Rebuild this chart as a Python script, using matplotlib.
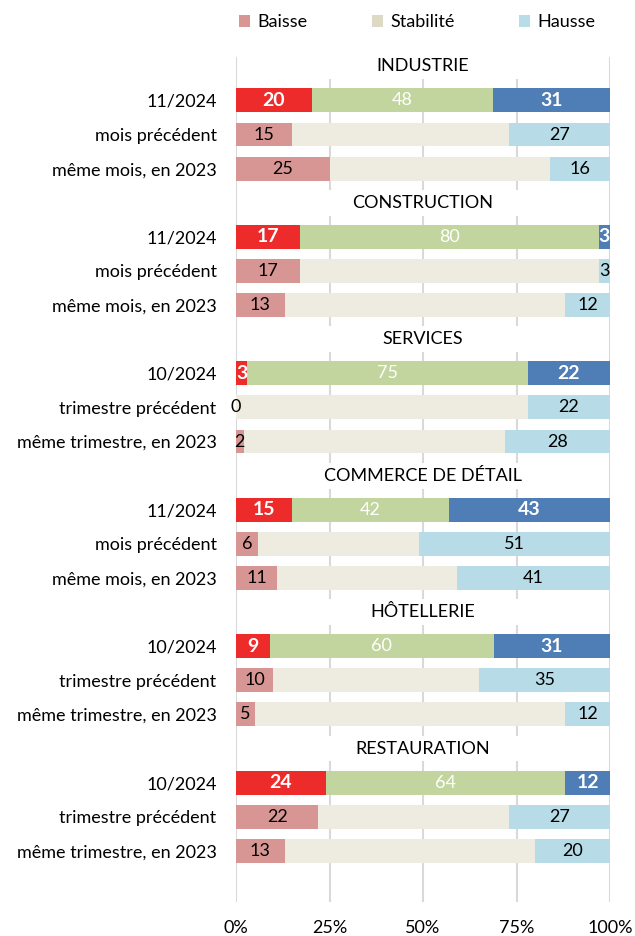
import numpy as np
import matplotlib.pyplot as plt
from matplotlib.patches import Patch

plt.rcParams['font.family'] = ['Lato', 'DejaVu Sans']

sectors = ["INDUSTRIE", "CONSTRUCTION", "SERVICES", "COMMERCE DE DÉTAIL", "HÔTELLERIE", "RESTAURATION"]
periods = [
    ["11/2024", "mois précédent", "même mois, en 2023"],
    ["11/2024", "mois précédent", "même mois, en 2023"],
    ["10/2024", "trimestre précédent", "même trimestre, en 2023"],
    ["11/2024", "mois précédent", "même mois, en 2023"],
    ["10/2024", "trimestre précédent", "même trimestre, en 2023"],
    ["10/2024", "trimestre précédent", "même trimestre, en 2023"],
]
baisse = [[20.2, 15, 25], [17, 17, 13], [3, 0, 2], [15, 6, 11], [9, 10, 5], [24, 22, 13]]
stabilite = [[48.4, 58, 59], [80, 80, 75], [75, 78, 70], [42, 43, 48], [60, 55, 83], [64, 51, 67]]
hausse = [[31.4, 27, 16], [3, 3, 12], [22, 22, 28], [43, 51, 41], [31, 35, 12], [12, 27, 20]]

# current period colours / earlier periods colours
cur_cols = ["#EE2B2B", "#C2D59E", "#4F7DB5"]
old_cols = ["#D79694", "#EEECE1", "#B7DCE7"]
leg_cols = ["#D99594", "#DDD9C4", "#B7DDE8"]

fs = 13

fig = plt.figure(figsize=(6.35, 9.36), dpi=100)
ax = fig.add_axes([0.3717, 0.0363, 0.589, 0.9027])

ytick_pos = []
ytick_lab = []
for g, sec in enumerate(sectors):
    hy = 4 * g
    ax.barh(hy, 98, left=1, height=0.76, color="white", zorder=1)
    ax.text(50, hy, sec, ha="center", va="center", fontsize=fs, zorder=3)
    for k in range(3):
        y = hy + 1 + k
        ytick_pos.append(y)
        ytick_lab.append(periods[g][k])
        vals = [baisse[g][k], stabilite[g][k], hausse[g][k]]
        left = 0
        for s in range(3):
            col = cur_cols[s] if k == 0 else old_cols[s]
            ax.barh(y, vals[s], left=left, height=0.7, color=col, zorder=2)
            cx = left + vals[s] / 2
            lab = "%d" % round(vals[s])
            if k == 0:
                fw = "normal" if s == 1 else "bold"
                ax.text(cx, y, lab, ha="center", va="center", color="white",
                        fontsize=fs + 1 if s != 1 else fs, fontweight=fw, zorder=3)
            elif s != 1:
                ax.text(cx, y, lab, ha="center", va="center", color="black",
                        fontsize=fs, zorder=3)
            left += vals[s]

ax.set_xlim(0, 100)
ax.set_ylim(24.5, -0.27)
ax.set_yticks(ytick_pos)
ax.set_yticklabels(ytick_lab, fontsize=fs)
ax.set_xticks([0, 25, 50, 75, 100])
ax.set_xticklabels(["0%", "25%", "50%", "75%", "100%"], fontsize=fs)
ax.tick_params(axis="y", length=0, pad=14)
ax.tick_params(axis="x", length=0, pad=13)
ax.grid(axis="x", color="#D9D9D9", linewidth=1.5, zorder=0)
ax.set_axisbelow(True)
for sp in ax.spines.values():
    sp.set_visible(False)

handles = [Patch(facecolor=c) for c in leg_cols]
fig.legend(handles, ["Baisse", "Stabilité", "Hausse"], loc="center",
           bbox_to_anchor=(0.657, 0.976), ncol=3, frameon=False, fontsize=fs,
           handlelength=0.6, handleheight=0.6, handletextpad=0.4, columnspacing=3.6)

fig.savefig("out.png", facecolor="white")
